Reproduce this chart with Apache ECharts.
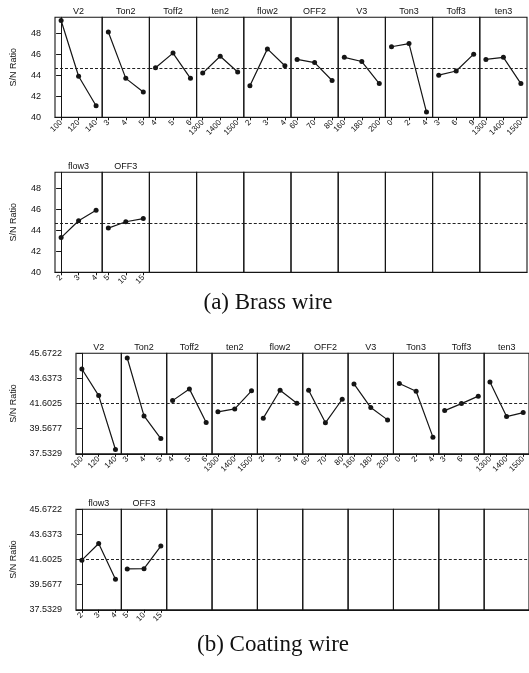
<!DOCTYPE html>
<html>
<head>
<meta charset="utf-8">
<script src="https://cdn.jsdelivr.net/npm/echarts@6/dist/echarts.min.js"></script>
<style>
  html, body { margin: 0; padding: 0; background: #fff; }
  #chart { width: 529px; height: 673px; }
</style>
</head>
<body>
<div id="chart"></div>
<script>
// Factor names and their three levels
const factorNames = ['V2', 'Ton2', 'Toff2', 'ten2', 'flow2', 'OFF2', 'V3', 'Ton3', 'Toff3', 'ten3', 'flow3', 'OFF3'];
const factorLevels = [
  ['100', '120', '140'], ['3', '4', '5'], ['4', '5', '6'], ['1300', '1400', '1500'],
  ['2', '3', '4'], ['60', '70', '80'], ['160', '180', '200'], ['0', '2', '4'],
  ['3', '6', '9'], ['1300', '1400', '1500'], ['2', '3', '4'], ['5', '10', '15']
];

// Mean S/N ratio per factor level, brass wire
const brassSN = [
  [49.2, 43.9, 41.1], [48.1, 43.7, 42.4], [44.7, 46.1, 43.7], [44.2, 45.8, 44.3],
  [43.0, 46.5, 44.9], [45.5, 45.2, 43.5], [45.7, 45.3, 43.2], [46.7, 47.0, 40.5],
  [44.0, 44.4, 46.0], [45.5, 45.7, 43.2], [43.3, 44.9, 45.9], [44.2, 44.8, 45.1]
];
const brassMean = 44.67;
const brassTicks = [40, 42, 44, 46, 48];

// Mean S/N ratio per factor level, coating wire
const coatingSN = [
  [44.40, 42.25, 37.88], [45.29, 40.60, 38.77], [41.84, 42.79, 40.06], [40.93, 41.17, 42.63],
  [40.42, 42.68, 41.63], [42.68, 40.04, 41.95], [43.19, 41.28, 40.28], [43.22, 42.60, 38.88],
  [41.03, 41.60, 42.20], [43.35, 40.55, 40.87], [41.55, 42.90, 40.00], [40.84, 40.86, 42.69]
];
const coatingMean = 41.6025;
const coatingTicks = [37.5329, 39.5677, 41.6025, 43.6373, 45.6722];

const charts = [
  { caption: '(a) Brass wire', captionX: 268, captionY: 303, data: brassSN, mean: brassMean,
    ticks: brassTicks, yMin: 40, yMax: 49.5, left: 55, width: 47.2, tops: [17.3, 172.3],
    height: 100, nameGap: 37, digits: 0 },
  { caption: '(b) Coating wire', captionX: 273, captionY: 645, data: coatingSN, mean: coatingMean,
    ticks: coatingTicks, yMin: 37.5329, yMax: 45.6722, left: 76, width: 45.35, tops: [353.3, 509.3],
    height: 100.5, nameGap: 58, digits: 4 }
];

const grid = [], xAxis = [], yAxis = [], series = [], graphic = [];
const ink = '#151515';

charts.forEach(c => {
  c.tops.forEach((top, r) => {
    for (let p = 0; p < 10; p++) {
      const f = r * 10 + p;
      const has = f < factorNames.length;
      const gi = grid.length;
      const left = c.left + p * c.width;
      grid.push({ left: left, top: top, width: c.width, height: c.height,
        show: true, borderColor: ink, borderWidth: 1.1, backgroundColor: 'transparent' });
      xAxis.push({
        type: 'value', gridIndex: gi, min: -0.35, max: 2.35,
        splitLine: { show: false },
        axisLine: { show: true, onZero: false, lineStyle: { color: ink, width: 1 } },
        axisTick: { show: has, customValues: [0, 1, 2], length: 3, lineStyle: { color: ink } },
        axisLabel: {
          show: has, customValues: [0, 1, 2], rotate: 45, margin: 4,
          fontSize: 8, color: '#111', fontFamily: 'Arial',
          formatter: v => has ? factorLevels[f][Math.round(v)] : ''
        }
      });
      yAxis.push({
        type: 'value', gridIndex: gi, min: c.yMin, max: c.yMax,
        show: p === 0,
        name: p === 0 ? 'S/N Ratio' : '', nameLocation: 'middle', nameRotate: 90, nameGap: c.nameGap,
        nameTextStyle: { fontSize: 9, color: '#111', fontFamily: 'Arial' },
        splitLine: { show: false },
        axisLine: { show: true, lineStyle: { color: ink } },
        axisTick: { show: true, customValues: c.ticks, length: 5, lineStyle: { color: ink } },
        axisLabel: {
          customValues: c.ticks, fontSize: 9, color: '#111', fontFamily: 'Arial', margin: 14,
          formatter: v => v.toFixed(c.digits)
        }
      });
      series.push({
        type: 'line', xAxisIndex: gi, yAxisIndex: gi,
        data: has ? c.data[f].map((v, i) => [i, v]) : [],
        symbol: 'circle', symbolSize: 5, showSymbol: true,
        lineStyle: { color: ink, width: 1.2 },
        itemStyle: { color: ink },
        silent: true, animation: false,
        markLine: {
          silent: true, symbol: 'none', animation: false,
          label: { show: false },
          lineStyle: { type: [3, 2], color: '#222', width: 1 },
          data: [{ yAxis: c.mean }]
        }
      });
      if (has) {
        graphic.push({
          type: 'text', x: left + c.width / 2, y: top - 6,
          style: { text: factorNames[f], fill: '#111', font: '9px Arial',
            textAlign: 'center', textVerticalAlign: 'middle' }
        });
      }
    }
  });
  graphic.push({
    type: 'text', x: c.captionX, y: c.captionY,
    style: { text: c.caption, fill: '#111', font: '23px "Liberation Serif", "Times New Roman", serif',
      textAlign: 'center', textVerticalAlign: 'middle' }
  });
});

const chart = echarts.init(document.getElementById('chart'), null, { renderer: 'canvas' });
chart.setOption({
  animation: false,
  backgroundColor: '#fff',
  grid, xAxis, yAxis, series, graphic
});
</script>
</body>
</html>
